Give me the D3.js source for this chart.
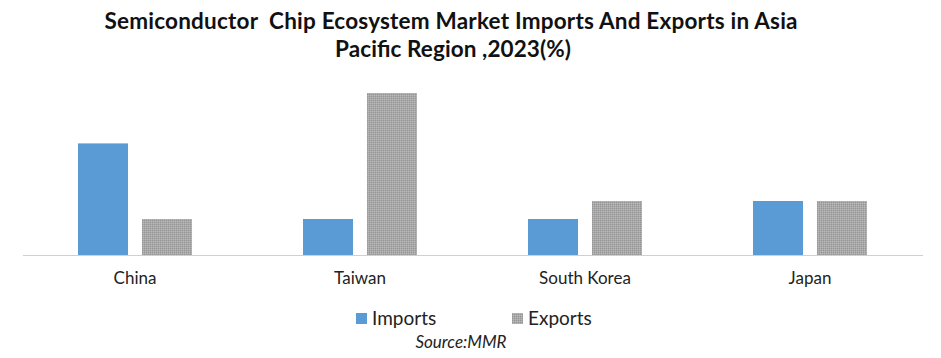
<html>
    <body style="margin:0;background:#fff">
        <script src="https://d3js.org/d3.v7.min.js"></script>

        <div id="my_dataviz"></div>

        <script>
            // chart values (percent)
            var countries = ["China", "Taiwan", "South Korea", "Japan"];
            var seriesNames = ["Imports", "Exports"];
            var imports = [31, 10, 10, 15];
            var exports = [10, 45, 15, 15];

            var W = 941, H = 358;
            var baseY = 255;

            var svg = d3.select("#my_dataviz")
              .append("svg")
                .attr("width", W)
                .attr("height", H)
                .style("font-family", "Lato, 'Open Sans', sans-serif");

            // speckled grey fill for exports
            var defs = svg.append("defs");
            var pat = defs.append("pattern")
                .attr("id", "speckle")
                .attr("width", 2).attr("height", 2)
                .attr("patternUnits", "userSpaceOnUse");
            pat.append("rect").attr("width", 2).attr("height", 2).attr("fill", "#a9a9a9");
            pat.append("rect").attr("width", 1).attr("height", 1).attr("fill", "#969696");
            pat.append("rect").attr("x", 1).attr("y", 1).attr("width", 1).attr("height", 1).attr("fill", "#b8b8b8");

            var colors = {Imports: "#5b9bd5", Exports: "url(#speckle)"};

            // title
            var title = svg.append("text")
                .attr("text-anchor", "middle")
                .attr("font-weight", "bold")
                .attr("font-size", 22.5)
                .attr("fill", "#111")
                .style("white-space", "pre");
            title.append("tspan").attr("x", 451).attr("y", 29)
                .attr("textLength", 693).attr("lengthAdjust", "spacing")
                .text("Semiconductor  Chip Ecosystem Market Imports And Exports in Asia");
            title.append("tspan").attr("x", 453).attr("y", 57)
                .attr("textLength", 236).attr("lengthAdjust", "spacing")
                .text("Pacific Region ,2023(%)");

            var data = countries.map(function(c, i) {
              return {country: c, Imports: imports[i], Exports: exports[i]};
            });

            var x0 = d3.scaleBand()
              .domain(countries)
              .range([22.5, 922.5])
              .paddingInner(0.4933)
              .paddingOuter(0.2467);

            var x1 = d3.scaleBand()
              .domain(seriesNames)
              .range([0, x0.bandwidth()])
              .paddingInner(0.21875);

            var y = d3.scaleLinear()
              .domain([0, 50])
              .range([baseY, baseY - 180]);

            // bars
            svg.append("g")
              .selectAll("g")
              .data(data)
              .enter()
              .append("g")
                .attr("transform", function(d) { return "translate(" + x0(d.country) + ",0)"; })
              .selectAll("rect")
              .data(function(d) { return seriesNames.map(function(k) { return {key: k, value: d[k]}; }); })
              .enter()
              .append("rect")
                .attr("x", function(d) { return x1(d.key); })
                .attr("y", function(d) { return y(d.value); })
                .attr("width", x1.bandwidth())
                .attr("height", function(d) { return baseY - y(d.value); })
                .attr("fill", function(d) { return colors[d.key]; });

            // x axis
            var xAxis = svg.append("g")
              .attr("transform", "translate(0," + baseY + ")")
              .call(d3.axisBottom(x0).tickSize(0).tickPadding(17));
            xAxis.select(".domain").attr("stroke", "#d0d0d0");
            xAxis.selectAll("text")
              .attr("font-family", "Lato, 'Open Sans', sans-serif")
              .attr("font-size", 17)
              .attr("fill", "#222");

            // legend
            var legendX = [356, 512];
            var legend = svg.append("g");
            seriesNames.forEach(function(k, i) {
              legend.append("rect")
                .attr("x", legendX[i]).attr("y", 313)
                .attr("width", 11).attr("height", 11)
                .attr("fill", colors[k]);
              legend.append("text")
                .attr("x", legendX[i] + 16).attr("y", 325)
                .attr("font-size", 19)
                .attr("fill", "#222")
                .text(k);
            });

            svg.append("text")
              .attr("x", 461).attr("y", 348)
              .attr("text-anchor", "middle")
              .attr("font-size", 17)
              .attr("font-style", "italic")
              .attr("fill", "#222")
              .text("Source:MMR");
        </script>
    </body>
</html>
